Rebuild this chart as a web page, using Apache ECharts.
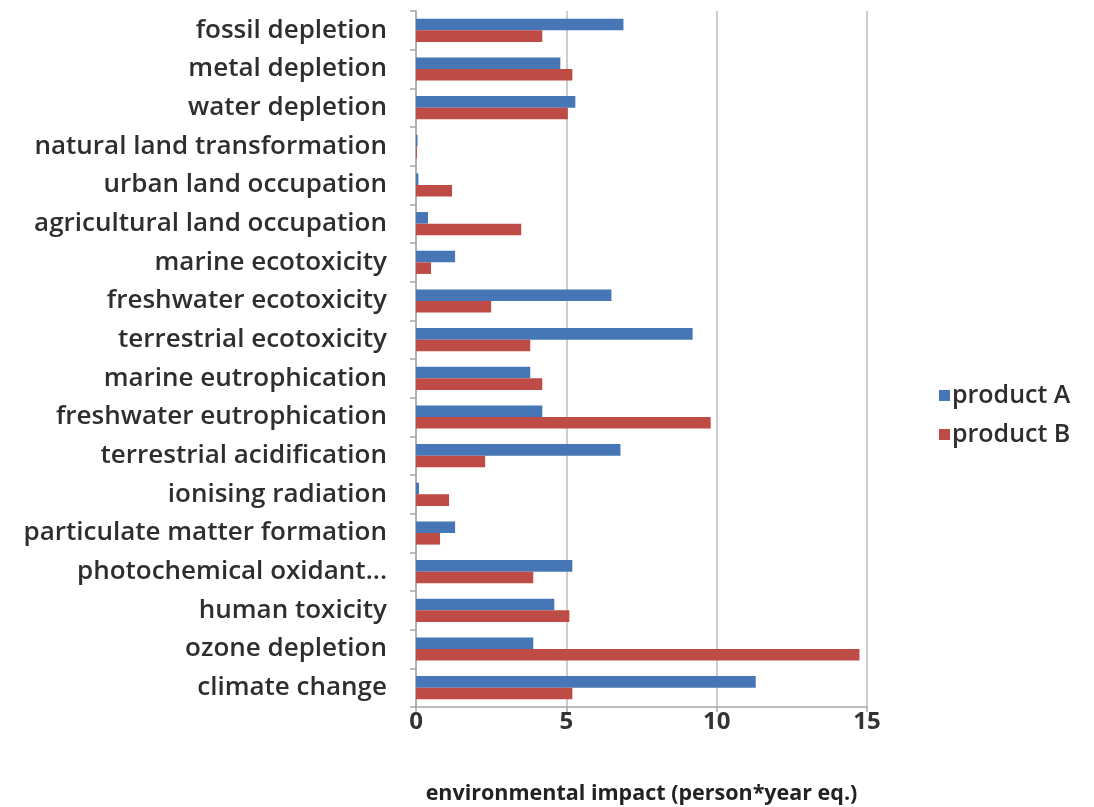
<!DOCTYPE html>
<html>
<head>
<meta charset="utf-8">
<title>Environmental impact by category</title>
<script src="https://cdn.jsdelivr.net/npm/echarts@6/dist/echarts.min.js"></script>
<style>
  html, body { margin: 0; padding: 0; background: #ffffff; }
  #chart { width: 1094px; height: 807px; }
</style>
</head>
<body>
<div id="chart"></div>
<script>
// Impact categories, listed top to bottom
const categories = [
  'fossil depletion',
  'metal depletion',
  'water depletion',
  'natural land transformation',
  'urban land occupation',
  'agricultural land occupation',
  'marine ecotoxicity',
  'freshwater ecotoxicity',
  'terrestrial ecotoxicity',
  'marine eutrophication',
  'freshwater eutrophication',
  'terrestrial acidification',
  'ionising radiation',
  'particulate matter formation',
  'photochemical oxidant...',
  'human toxicity',
  'ozone depletion',
  'climate change'
];

// Environmental impact, person*year eq.
const productA = [6.9, 4.8, 5.3, 0.05, 0.08, 0.4, 1.3, 6.5, 9.2, 3.8, 4.2, 6.8, 0.1, 1.3, 5.2, 4.6, 3.9, 11.3];
const productB = [4.2, 5.2, 5.05, 0.03, 1.2, 3.5, 0.5, 2.5, 3.8, 4.2, 9.8, 2.3, 1.1, 0.8, 3.9, 5.1, 14.75, 5.2];

const seriesNames = ['product A', 'product B'];
const xTicks = { min: 0, max: 15, interval: 5 };
const axisTitle = 'environmental impact (person*year eq.)';

const FONT = '"Open Sans", Lato, sans-serif';
const TEXT = '#2e2e2e';
const chart = echarts.init(document.getElementById('chart'), null, { renderer: 'canvas' });

chart.setOption({
  backgroundColor: '#ffffff',
  animation: false,
  textStyle: { fontFamily: FONT },
  grid: {
    left: 416, right: 227, top: 11, bottom: 100,
    containLabel: false,
    outerBoundsMode: 'none'
  },
  legend: {
    orient: 'vertical',
    left: 934,
    top: 378,
    itemWidth: 11,
    itemHeight: 11,
    itemGap: 14,
    icon: 'rect',
    data: seriesNames,
    textStyle: { fontFamily: FONT, fontSize: 25, fontWeight: 600, color: TEXT, padding: [0, 0, 0, -3] }
  },
  xAxis: {
    type: 'value',
    min: xTicks.min,
    max: xTicks.max,
    interval: xTicks.interval,
    name: axisTitle,
    nameLocation: 'middle',
    nameGap: 76,
    nameTextStyle: { fontFamily: FONT, fontSize: 21.5, fontWeight: 'bold', color: '#222' },
    axisLine: { show: true, lineStyle: { color: '#a6a6a6', width: 1.5 } },
    axisTick: { show: true, length: 5, lineStyle: { color: '#a6a6a6', width: 1.5 } },
    axisLabel: { margin: 3, fontFamily: FONT, fontSize: 24, fontWeight: 'bold', color: '#333' },
    splitLine: { show: true, lineStyle: { color: '#bdbdbd', width: 1.5 } }
  },
  yAxis: {
    type: 'category',
    inverse: true,
    data: categories,
    axisLine: { show: true, lineStyle: { color: '#a6a6a6', width: 1.5 } },
    axisTick: { show: true, length: 6, lineStyle: { color: '#a6a6a6', width: 1.5 } },
    axisLabel: { margin: 29, fontFamily: FONT, fontSize: 26, fontWeight: 600, color: TEXT },
    splitLine: { show: false }
  },
  series: [
    {
      name: seriesNames[0],
      type: 'bar',
      data: productA,
      barGap: '0%',
      barCategoryGap: '40%',
      itemStyle: { color: '#4676b6' }
    },
    {
      name: seriesNames[1],
      type: 'bar',
      data: productB,
      barGap: '0%',
      barCategoryGap: '40%',
      itemStyle: { color: '#bf4b46' }
    }
  ]
});
</script>
</body>
</html>
